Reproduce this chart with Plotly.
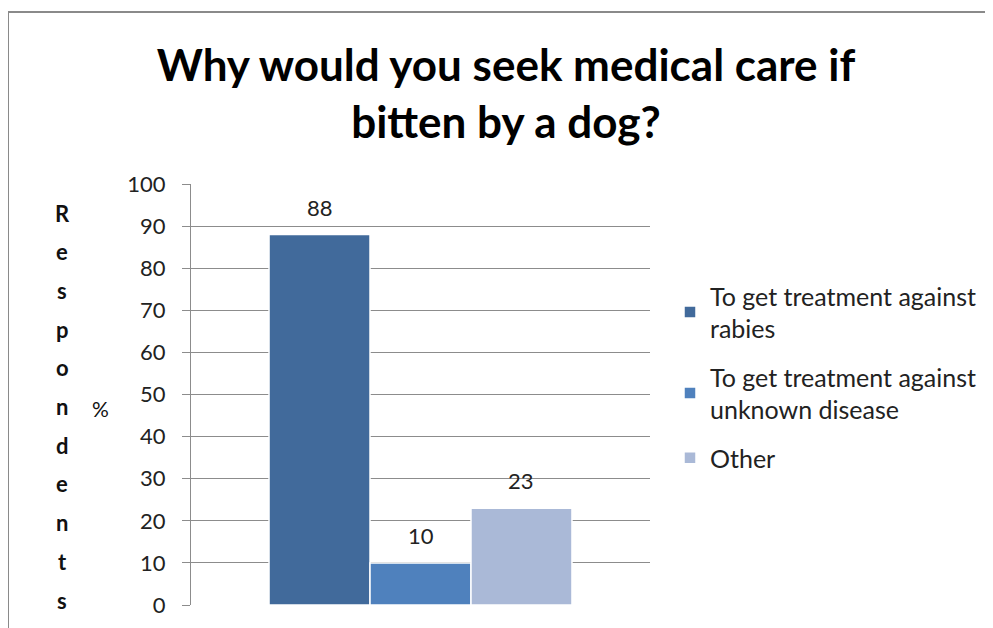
import plotly.graph_objects as go

title = "Why would you seek medical care if<br>bitten by a dog?"
categories = [""]
series_names = ["To get treatment against<br>rabies", "To get treatment against<br>unknown disease", "Other"]
series_values = [[88], [10], [23]]
series_colors = ["#416A9B", "#4F81BD", "#AAB9D7"]
y_ticks = [0, 10, 20, 30, 40, 50, 60, 70, 80, 90, 100]
y_title_word = "Respondents"

FONT = "Lato"
OFF = 8  # page body margin
W, H = 993 - OFF, 628 - OFF
# plot area in reference (window) pixels
PX0, PX1, PY0, PY1 = 191, 650, 184, 605
L, R, T, B = PX0 - OFF, W - (PX1 - OFF), PY0 - OFF, H - (PY1 - OFF)
pw, ph = PX1 - PX0, PY1 - PY0
BARGAP = 0.34


def px_to_paper_x(px):
    return (px - PX0) / pw


def px_to_paper_y(py):
    return (PY1 - py) / ph


fig = go.Figure()
n = len(series_names)
for i, (name, vals, col) in enumerate(zip(series_names, series_values, series_colors)):
    fig.add_trace(go.Bar(
        x=categories, y=vals, name=name, legendgroup=str(i),
        marker=dict(color=col, line=dict(color="white", width=1.5)),
    ))
    # value labels above bars
    bw = (1 - BARGAP) / n
    for j, v in enumerate(vals):
        fig.add_annotation(x=j - (1 - BARGAP) / 2 + bw * (i + 0.5), y=v, xref="x", yref="y",
                           text=str(v), showarrow=False, yanchor="bottom", yshift=12,
                           font=dict(family=FONT, size=22, color="#222"))

# border of chart area
fig.add_shape(type="rect", xref="paper", yref="paper",
              x0=px_to_paper_x(8), x1=px_to_paper_x(1030),
              y0=px_to_paper_y(680), y1=px_to_paper_y(12),
              line=dict(color="#8a8a8a", width=2), layer="below")

# vertical stacked axis title
letters = list(y_title_word)
top_y, bot_y = 213, 600
step = (bot_y - top_y) / (len(letters) - 1)
for i, ch in enumerate(letters):
    fig.add_annotation(text=ch, xref="paper", yref="paper",
                       x=px_to_paper_x(62), y=px_to_paper_y(top_y + i * step),
                       showarrow=False, xanchor="center", yanchor="middle",
                       font=dict(family=FONT, size=22, color="#111", weight="bold"))
fig.add_annotation(text="%", xref="paper", yref="paper",
                   x=px_to_paper_x(100), y=px_to_paper_y(408),
                   showarrow=False, xanchor="center", yanchor="middle",
                   font=dict(family=FONT, size=21, color="#111"))

fig.update_layout(
    width=W, height=H,
    margin=dict(l=L, r=R, t=T, b=B, autoexpand=False),
    paper_bgcolor="white", plot_bgcolor="white",
    barmode="group", bargap=BARGAP, bargroupgap=0.0,
    title=dict(text="<b>" + title + "</b>", x=(506 - OFF) / W, xanchor="center",
               y=1 - (81 - OFF) / H, yanchor="middle",
               font=dict(family=FONT, size=44, color="#000")),
    showlegend=True,
    legend=dict(x=px_to_paper_x(670), y=px_to_paper_y(273), xanchor="left", yanchor="top",
                font=dict(family=FONT, size=25, color="#222"),
                tracegroupgap=13, itemwidth=30),
    xaxis=dict(showticklabels=False, showgrid=False, zeroline=False,
               showline=False, ticks=""),
    yaxis=dict(range=[0, 100], tickvals=y_ticks, ticktext=[str(v) for v in y_ticks],
               showgrid=True, gridcolor="#8c8c8c", gridwidth=1,
               zeroline=False, showline=True, linecolor="#8c8c8c", linewidth=1,
               ticks="outside", ticklen=8, tickcolor="#8c8c8c",
               ticklabelstandoff=12,
               tickfont=dict(family=FONT, size=22, color="#222")),
)

fig.write_html("out.html")
